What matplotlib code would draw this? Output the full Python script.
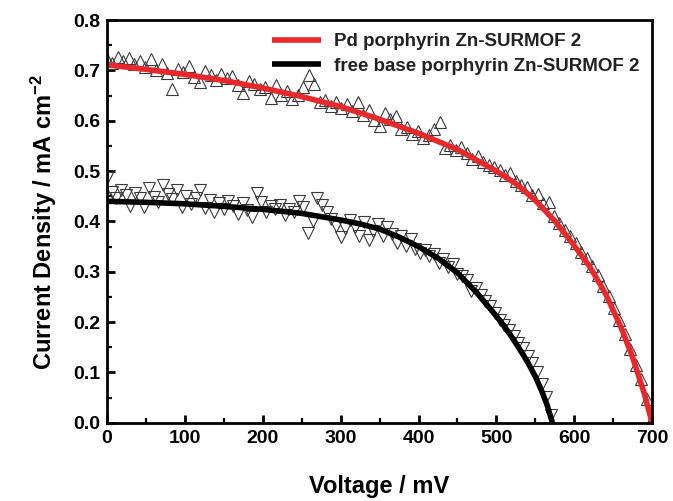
import matplotlib
matplotlib.use("Agg")
import matplotlib.pyplot as plt
from matplotlib.ticker import MultipleLocator, FormatStrFormatter

plt.rcParams['font.family'] = ['Liberation Sans', 'DejaVu Sans']
plt.rcParams['font.weight'] = 'bold'
plt.rcParams['mathtext.fontset'] = 'custom'
plt.rcParams['mathtext.rm'] = 'Liberation Sans:bold'
plt.rcParams['mathtext.bf'] = 'Liberation Sans:bold'
plt.rcParams['mathtext.default'] = 'bf'

# ---- data ----
pd_fit_v = [0, 50, 100, 150, 200, 250, 300, 350, 400, 450, 500, 525, 550, 575,
            600, 620, 640, 660, 675, 690, 700]
pd_fit_j = [0.711, 0.702, 0.692, 0.680, 0.665, 0.648, 0.628, 0.603, 0.575, 0.543,
            0.500, 0.475, 0.442, 0.401, 0.352, 0.310, 0.257, 0.190, 0.130, 0.058, 0.0]

fb_fit_v = [0, 50, 100, 150, 200, 250, 300, 325, 350, 375, 400, 425, 450, 475,
            500, 510, 520, 530, 540, 550, 558, 565, 572]
fb_fit_j = [0.440, 0.438, 0.435, 0.430, 0.424, 0.416, 0.403, 0.395, 0.385, 0.369,
            0.350, 0.327, 0.298, 0.258, 0.212, 0.192, 0.170, 0.146, 0.121, 0.092,
            0.064, 0.036, 0.0]

pd_v = list(range(0, 701, 7))
pd_j = [0.722, 0.714, 0.726, 0.718, 0.724, 0.712, 0.719, 0.706, 0.722, 0.701,
        0.712, 0.694, 0.664, 0.703, 0.697, 0.708, 0.686, 0.676, 0.699, 0.690,
        0.681, 0.693, 0.684, 0.688, 0.671, 0.656, 0.679, 0.672, 0.663, 0.668,
        0.646, 0.671, 0.651, 0.659, 0.644, 0.652, 0.667, 0.690, 0.672, 0.638,
        0.641, 0.629, 0.637, 0.626, 0.634, 0.620, 0.638, 0.612, 0.621, 0.601,
        0.590, 0.616, 0.604, 0.610, 0.583, 0.588, 0.573, 0.579, 0.566, 0.571,
        0.584, 0.598, 0.546, 0.552, 0.541, 0.547, 0.536, 0.524, 0.530, 0.519,
        0.512, 0.508, 0.502, 0.493, 0.497, 0.481, 0.473, 0.468, 0.452, 0.455,
        0.437, 0.438, 0.410, 0.397, 0.383, 0.371, 0.357, 0.340, 0.327, 0.311,
        0.293, 0.272, 0.252, 0.228, 0.205, 0.176, 0.146, 0.115, 0.088, 0.048,
        0.008]

fb_v = list(range(0, 571, 6))
fb_j = [0.486, 0.458, 0.447, 0.463, 0.452, 0.431, 0.456, 0.446, 0.429, 0.466,
        0.448, 0.439, 0.472, 0.455, 0.444, 0.462, 0.428, 0.451, 0.434, 0.447,
        0.463, 0.426, 0.442, 0.419, 0.437, 0.424, 0.441, 0.431, 0.415, 0.436,
        0.422, 0.409, 0.457, 0.438, 0.418, 0.430, 0.424, 0.433, 0.413, 0.425,
        0.419, 0.441, 0.428, 0.377, 0.401, 0.446, 0.432, 0.418, 0.404, 0.391,
        0.369, 0.386, 0.402, 0.388, 0.372, 0.398, 0.364, 0.381, 0.394, 0.372,
        0.389, 0.376, 0.358, 0.371, 0.352, 0.366, 0.346, 0.338, 0.344, 0.331,
        0.336, 0.318, 0.325, 0.309, 0.316, 0.296, 0.291, 0.284, 0.262, 0.268,
        0.253, 0.242, 0.232, 0.219, 0.205, 0.194, 0.185, 0.172, 0.158, 0.148,
        0.132, 0.118, 0.101, 0.078, 0.052, 0.016]

labels = ["Pd porphyrin Zn-SURMOF 2", "free base porphyrin Zn-SURMOF 2"]

# ---- plot ----
fig = plt.figure(figsize=(6.73, 5.01), dpi=100)
ax = fig.add_axes([0.159, 0.156, 0.810, 0.804])

ax.plot(pd_v, pd_j, linestyle='none', marker='^', markersize=8.5,
        markerfacecolor='none', markeredgecolor='#3a3a3a', markeredgewidth=0.8)
ax.plot(fb_v, fb_j, linestyle='none', marker='v', markersize=8.5,
        markerfacecolor='none', markeredgecolor='#3a3a3a', markeredgewidth=0.8)

ax.plot(pd_fit_v, pd_fit_j, color='#e8282b', lw=4, label=labels[0], solid_capstyle='butt')
ax.plot(fb_fit_v, fb_fit_j, color='black', lw=4, label=labels[1], solid_capstyle='butt')

ax.set_xlim(0, 700)
ax.set_ylim(0, 0.8)
ax.xaxis.set_major_locator(MultipleLocator(100))
ax.xaxis.set_minor_locator(MultipleLocator(50))
ax.yaxis.set_major_locator(MultipleLocator(0.1))
ax.yaxis.set_minor_locator(MultipleLocator(0.05))
ax.yaxis.set_major_formatter(FormatStrFormatter('%.1f'))

ax.tick_params(which='major', direction='in', length=6, width=2,
               labelsize=14, top=False, right=False, pad=5)
ax.tick_params(which='minor', direction='in', length=3.5, width=1.6,
               top=False, right=False)
for lab in ax.get_xticklabels() + ax.get_yticklabels():
    lab.set_fontweight('bold')
for s in ax.spines.values():
    s.set_linewidth(2)

ax.set_xlabel("Voltage / mV", fontsize=17, fontweight='bold', labelpad=20)
ax.set_ylabel("Current Density / mA cm$^{-2}$", fontsize=17, fontweight='bold', labelpad=10)

leg = ax.legend(loc='upper right', frameon=False, fontsize=13.5, handlelength=2.6,
                handletextpad=0.7, borderaxespad=0.3, labelspacing=0.4,
                bbox_to_anchor=(1.0, 1.0))
for t in leg.get_texts():
    t.set_fontweight('bold')
    t.set_color('#222222')

fig.savefig("out.png", dpi=100)
